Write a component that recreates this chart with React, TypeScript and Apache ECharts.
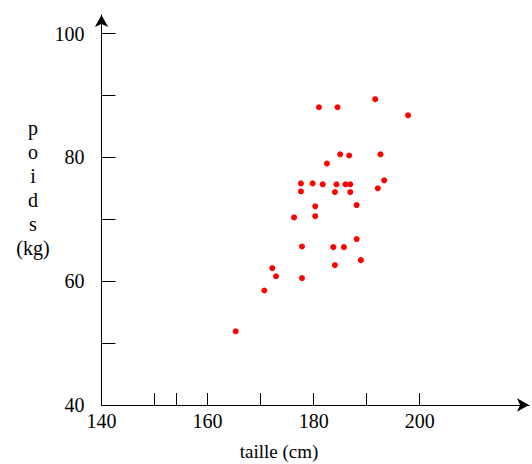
import React, { useEffect, useRef } from "react";
import * as echarts from "echarts";

const tailles = [181.0, 184.5, 191.6, 197.8, 185.0, 186.7, 192.6, 182.5, 177.6, 179.8, 181.7, 184.3, 186.0, 186.9, 193.3, 192.1, 177.6, 184.0, 186.9, 180.3, 188.1, 176.3, 180.3, 177.8, 183.7, 185.7, 188.1, 184.0, 188.9, 172.2, 172.9, 177.8, 170.7, 165.3];
const poids = [88.1, 88.1, 89.4, 86.8, 80.5, 80.3, 80.5, 79.0, 75.8, 75.8, 75.65, 75.65, 75.65, 75.65, 76.3, 75.0, 74.5, 74.4, 74.4, 72.1, 72.3, 70.3, 70.5, 65.6, 65.5, 65.5, 66.8, 62.6, 63.4, 62.1, 60.8, 60.5, 58.5, 51.9];
const xTicks = [150, 154, 160, 170, 180, 190, 200];
const xLabels = [140, 160, 180, 200];
const yTicks = [50, 60, 70, 80, 90, 100];
const yLabels = [40, 60, 80, 100];

const FONT = "serif";

export default function App() {
  const ref = useRef<HTMLDivElement>(null);
  useEffect(() => {
    if (!ref.current) return;
    const chart = echarts.init(ref.current, undefined, { renderer: "svg" });
    const data = tailles.map((t, i) => [t, poids[i]]);
    chart.setOption({
      animation: false,
      backgroundColor: "#ffffff",
      textStyle: { fontFamily: FONT },
      grid: { left: 101.5, right: 3, top: 15, bottom: 59, containLabel: false },
      xAxis: {
        type: "value",
        min: 140,
        max: 220.6,
        axisLine: {
          show: true,
          onZero: false,
          symbol: ["none", "arrow"],
          symbolSize: [10, 12],
          lineStyle: { color: "#000", width: 1 },
        },
        axisTick: { show: true, inside: true, length: 12, customValues: xTicks, lineStyle: { color: "#000" } },
        axisLabel: { customValues: xLabels, color: "#000", fontFamily: FONT, fontSize: 20, margin: 6 },
        splitLine: { show: false },
      },
      yAxis: {
        type: "value",
        min: 40,
        max: 103,
        axisLine: {
          show: true,
          onZero: false,
          symbol: ["none", "arrow"],
          symbolSize: [10, 12],
          lineStyle: { color: "#000", width: 1 },
        },
        axisTick: { show: true, inside: true, length: 14, customValues: yTicks, lineStyle: { color: "#000" } },
        axisLabel: { customValues: yLabels, color: "#000", fontFamily: FONT, fontSize: 20, margin: 17 },
        splitLine: { show: false },
      },
      graphic: [
        {
          type: "text",
          x: 33,
          y: 116,
          style: {
            text: "p\no\ni\nd\ns\n(kg)",
            fontFamily: FONT,
            fontSize: 20,
            lineHeight: 24,
            fill: "#000",
            align: "center",
            verticalAlign: "top",
          },
        },
        {
          type: "text",
          x: 279,
          y: 451,
          style: {
            text: "taille (cm)",
            fontFamily: FONT,
            fontSize: 19,
            fill: "#000",
            align: "center",
            verticalAlign: "middle",
          },
        },
      ],
      series: [
        {
          type: "scatter",
          data,
          symbol: "circle",
          symbolSize: 6,
          itemStyle: { color: "#ff0000", opacity: 1 },
        },
      ],
    });
    return () => chart.dispose();
  }, []);
  return <div ref={ref} style={{ position: "fixed", left: 0, top: 0, width: 532, height: 464 }} />;
}
